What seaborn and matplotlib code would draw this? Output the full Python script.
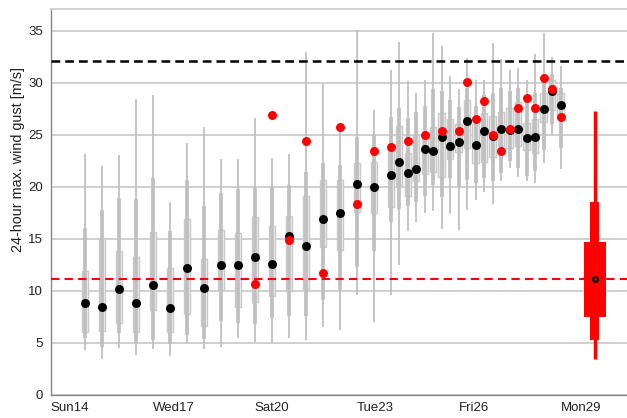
import numpy as np
import matplotlib
matplotlib.use("Agg")
import matplotlib.pyplot as plt
import seaborn as sns

# lead time in days after Sun14 00:00
days = [1, 1.5, 2, 2.5, 3, 3.5, 4, 4.5, 5, 5.5, 6, 6.5, 7, 7.5, 8, 8.5, 9, 9.5, 10,
        10.25, 10.5, 10.75, 11, 11.25, 11.5, 11.75, 12, 12.25, 12.5, 12.75,
        13, 13.25, 13.5, 13.75, 14, 14.25, 14.5, 14.75, 15]

# ensemble spread (m/s)
whisk_lo = [4.3, 3.4, 4.5, 3.8, 4.4, 3.7, 5.0, 4.4, 4.6, 5.5,
            5.1, 5.0, 5.5, 5.3, 6.5, 6.2, 9.6, 7.0, 9.6,
            12.5, 15.7, 16.6, 17.5, 17.7, 15.9, 17.4, 15.8, 17.8, 18.7,
            19.5, 18.3, 20.5, 21.8, 20.9, 20.5, 20.4, 22.3, 25.0, 21.7]
thick_lo = [5.5, 4.6, 5.9, 4.9, 5.3, 4.9, 5.7, 5.4, 7.1, 6.9,
            6.8, 7.4, 7.6, 7.6, 9.1, 10.1, 12.3, 13.8, 16.6,
            17.9, 18.1, 18.5, 19.1, 20.2, 19.0, 20.8, 20.0, 20.6, 20.4,
            20.8, 20.5, 21.3, 22.5, 21.8, 21.0, 21.5, 23.5, 26.0, 23.7]
box_lo = [6.0, 6.1, 6.9, 6.0, 8.1, 6.0, 7.8, 6.6, 10.1, 8.4,
          8.9, 9.5, 10.0, 10.2, 14.2, 13.9, 17.6, 17.5, 18.0,
          20.2, 19.1, 20.5, 21.2, 21.4, 20.9, 22.7, 23.3, 23.7, 22.3,
          22.4, 22.9, 23.9, 23.7, 23.9, 23.5, 23.2, 26.2, 27.4, 26.7]
box_hi = [11.9, 15.1, 13.8, 13.2, 15.6, 12.2, 16.9, 13.0, 15.8, 15.5,
          17.1, 16.2, 17.2, 19.1, 20.6, 20.6, 22.3, 22.4, 23.5,
          25.8, 23.2, 25.0, 25.2, 25.7, 27.1, 26.5, 26.0, 28.3, 26.0,
          27.1, 26.8, 27.2, 27.6, 28.1, 26.1, 26.5, 29.0, 30.3, 29.0]
thick_hi = [16.0, 17.8, 18.9, 18.8, 20.8, 15.7, 20.6, 18.1, 19.4, 19.8,
            19.9, 20.1, 20.2, 21.4, 22.3, 22.1, 24.8, 25.0, 26.7,
            27.6, 26.6, 27.2, 27.8, 29.4, 29.2, 28.3, 27.7, 29.5, 27.8,
            28.8, 29.0, 29.5, 29.2, 29.5, 28.5, 29.0, 30.3, 30.8, 29.5]
whisk_hi = [23.1, 22.0, 23.0, 28.4, 28.8, 18.5, 24.2, 25.7, 22.7, 22.7,
            26.6, 22.8, 23.1, 32.9, 29.9, 26.0, 35.1, 27.4, 31.2,
            33.9, 30.2, 29.0, 30.3, 34.8, 33.5, 30.6, 29.4, 32.4, 30.3,
            30.3, 33.8, 32.3, 31.2, 31.4, 30.3, 32.8, 34.8, 32.5, 31.6]

# black dots (forecast) and red dots (observed)
fcst = [8.85, 8.43, 10.16, 8.8, 10.58, 8.34, 12.2, 10.26, 12.5, 12.44,
        13.2, 12.54, 15.3, 14.27, 16.9, 17.44, 20.26, 19.95, 21.1,
        22.35, 21.35, 21.67, 23.6, 23.4, 24.8, 23.9, 24.3, 26.3, 24.0,
        25.4, 24.9, 25.55, 25.45, 25.55, 24.7, 24.8, 27.5, 29.2, 27.85]
nan = np.nan
obs = [nan, nan, nan, nan, nan, nan, nan, nan, nan, nan,
       10.67, 26.87, 14.9, 24.4, 11.7, 25.7, 18.3, 23.4, 23.8,
       nan, 24.4, nan, 25.0, nan, 25.35, nan, 25.4, 30.1, 26.5,
       28.2, 24.95, 23.4, 25.5, 27.6, 28.5, 27.57, 30.4, 29.4, 26.7]

# climatology box
clim_day = 16
clim_stats = [3.4, 5.3, 7.5, 11.1, 14.65, 18.55, 27.3]  # min, p10, p25, median, p75, p90, max

upper_line = 32.1
lower_line = 11.1

tick_days = [0, 3, 6, 9, 12, 15]
tick_labels = ["Sun14", "Wed17", "Sat20", "Tue23", "Fri26", "Mon29"]

sns.set_theme(style="whitegrid")
plt.rcParams['font.family'] = ['Liberation Sans', 'DejaVu Sans']

fig = plt.figure(figsize=(6.27, 4.18), dpi=100)
ax = fig.add_axes([0.081, 0.0557, 0.919, 0.922])

d = np.array(days)
ax.bar(d, np.array(box_hi) - np.array(box_lo), bottom=box_lo, width=0.19,
       color='#efefef', edgecolor='#c8c8c8', linewidth=1, zorder=2)
ax.vlines(d, whisk_lo, whisk_hi, color='#c0c0c0', lw=1.3, zorder=3)
ax.vlines(d, thick_lo, thick_hi, color='#c0c0c0', lw=2.7, zorder=3)

sns.scatterplot(x=days, y=fcst, color='black', s=42, linewidth=0, zorder=5, ax=ax)
sns.scatterplot(x=days, y=obs, color='red', s=42, linewidth=0, zorder=6, ax=ax)

# climatology
cmin, c10, c25, cmed, c75, c90, cmax = clim_stats
ax.vlines(clim_day, cmin, cmax, color='red', lw=2.5, zorder=3)
ax.bar(clim_day, c90 - c10, bottom=c10, width=0.28, color='red', linewidth=0, zorder=3)
ax.bar(clim_day, c75 - c25, bottom=c25, width=0.64, color='red', linewidth=0, zorder=3)
ax.scatter([clim_day], [cmed], s=12, facecolor='red', edgecolor='black', linewidth=1.5, zorder=6)

ax.axhline(upper_line, color='black', ls=(0, (3.5, 2)), lw=1.8, zorder=4)
ax.axhline(lower_line, color='red', ls=(0, (4, 2.5)), lw=1.5, zorder=4)

ax.set_xlim(0, 16.95)
ax.set_ylim(0, 37.05)
ax.set_yticks(range(0, 36, 5))
ax.set_xticks(tick_days)
ax.set_xticklabels(tick_labels, ha='left')
ax.set_xlabel("")
ax.set_ylabel("24-hour max. wind gust [m/s]", fontsize=10.4, color='#222222')
ax.yaxis.set_label_coords(-0.045, 0.61)

ax.grid(axis='x', visible=False)
ax.grid(axis='y', color='#cccccc', lw=1.3)
ax.tick_params(axis='both', length=4, width=0.8, color='#888888',
               labelsize=9.5, labelcolor='#222222', pad=1.5)
for side in ['left', 'bottom']:
    ax.spines[side].set_color('#888888')
    ax.spines[side].set_linewidth(1)
ax.spines['top'].set_color('#cccccc')
ax.spines['right'].set_visible(False)

fig.savefig("out.png", dpi=100)
